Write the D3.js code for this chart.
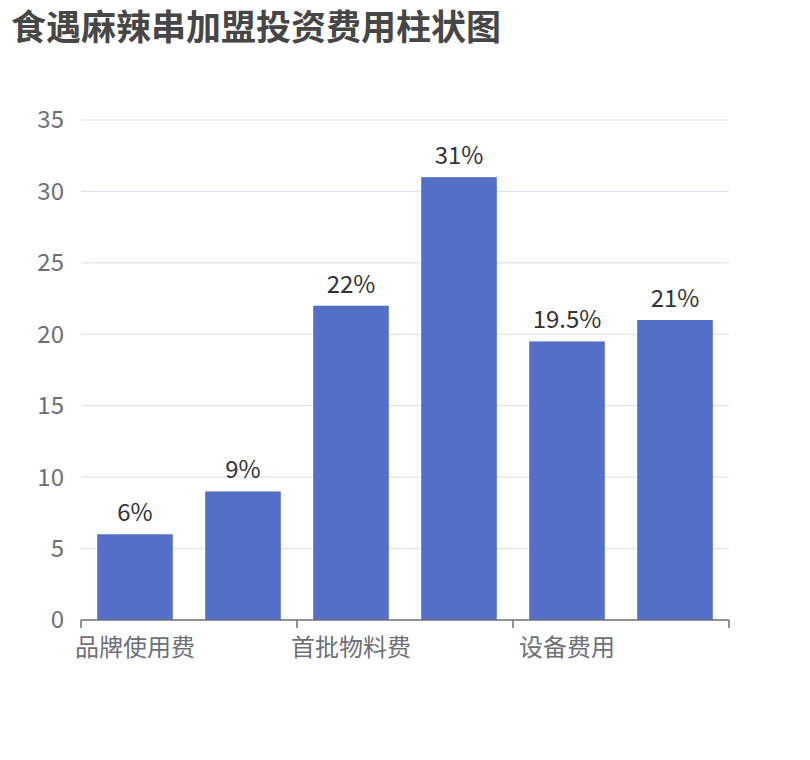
<!DOCTYPE html>
<html>
<head>
<meta charset="utf-8">
<script src="https://cdn.jsdelivr.net/npm/d3@7"></script>
<style>
  body { margin: 0; background: #fff; }
  svg { font-family: "Noto Sans CJK SC", "Noto Sans", sans-serif; }
</style>
</head>
<body>
<svg id="chart" width="810" height="760"></svg>
<script>
const categories = ['品牌使用费', '装修费用', '首批物料费', '房租押金', '设备费用', '流动资金'];
const values = [6, 9, 22, 31, 19.5, 21];
const yTicks = [0, 5, 10, 15, 20, 25, 30, 35];
const title = '食遇麻辣串加盟投资费用柱状图';

const svg = d3.select('#chart');
const margin = { left: 81, right: 81, top: 120, bottom: 140 };
const width = 810;
const height = 760;

const x = d3.scaleBand()
  .domain(categories)
  .range([margin.left, width - margin.right])
  .paddingInner(0.3)
  .paddingOuter(0.15);

const y = d3.scaleLinear()
  .domain([0, 35])
  .range([height - margin.bottom, margin.top]);

// title
svg.append('text')
  .attr('x', 11)
  .attr('y', 40)
  .attr('font-size', 35)
  .attr('font-weight', 'bold')
  .attr('fill', '#464646')
  .text(title);

// grid lines
svg.append('g')
  .selectAll('line')
  .data(yTicks.filter((d) => d > 0))
  .enter()
  .append('line')
  .attr('x1', margin.left)
  .attr('x2', width - margin.right)
  .attr('y1', (d) => y(d))
  .attr('y2', (d) => y(d))
  .attr('stroke', '#e0e6f1')
  .attr('stroke-width', 1.2);

// y labels
svg.append('g')
  .selectAll('text')
  .data(yTicks)
  .enter()
  .append('text')
  .attr('x', margin.left - 17)
  .attr('y', (d) => y(d))
  .attr('dy', '0.35em')
  .attr('text-anchor', 'end')
  .attr('font-size', 24)
  .attr('fill', '#6e7079')
  .text((d) => d);

// bars
svg.append('g')
  .selectAll('rect')
  .data(categories)
  .enter()
  .append('rect')
  .attr('x', (d) => x(d))
  .attr('y', (d, i) => y(values[i]))
  .attr('width', x.bandwidth())
  .attr('height', (d, i) => y(0) - y(values[i]))
  .attr('fill', '#5470c6');

// value labels
svg.append('g')
  .selectAll('text')
  .data(categories)
  .enter()
  .append('text')
  .attr('x', (d) => x(d) + x.bandwidth() / 2)
  .attr('y', (d, i) => y(values[i]) - 13)
  .attr('text-anchor', 'middle')
  .attr('font-size', 24)
  .attr('fill', '#333')
  .text((d, i) => values[i] + '%');

// x axis line
svg.append('line')
  .attr('x1', margin.left)
  .attr('x2', width - margin.right)
  .attr('y1', y(0))
  .attr('y2', y(0))
  .attr('stroke', '#6e7079')
  .attr('stroke-width', 1.5);

// ticks every two categories (ECharts interval style)
const tickCats = categories.filter((d, i) => i % 2 === 0);
const tickX = (d) => (d === '__end' ? width - margin.right : x(d) - x.step() * x.paddingInner() / 2);
svg.append('g')
  .selectAll('line')
  .data(tickCats.concat(['__end']))
  .enter()
  .append('line')
  .attr('x1', tickX)
  .attr('x2', tickX)
  .attr('y1', y(0))
  .attr('y2', y(0) + 8)
  .attr('stroke', '#6e7079')
  .attr('stroke-width', 1.5);

svg.append('g')
  .selectAll('text')
  .data(tickCats)
  .enter()
  .append('text')
  .attr('x', (d) => x(d) + x.bandwidth() / 2)
  .attr('y', y(0) + 36)
  .attr('text-anchor', 'middle')
  .attr('font-size', 24)
  .attr('fill', '#6e7079')
  .text((d) => d);
</script>
</body>
</html>
